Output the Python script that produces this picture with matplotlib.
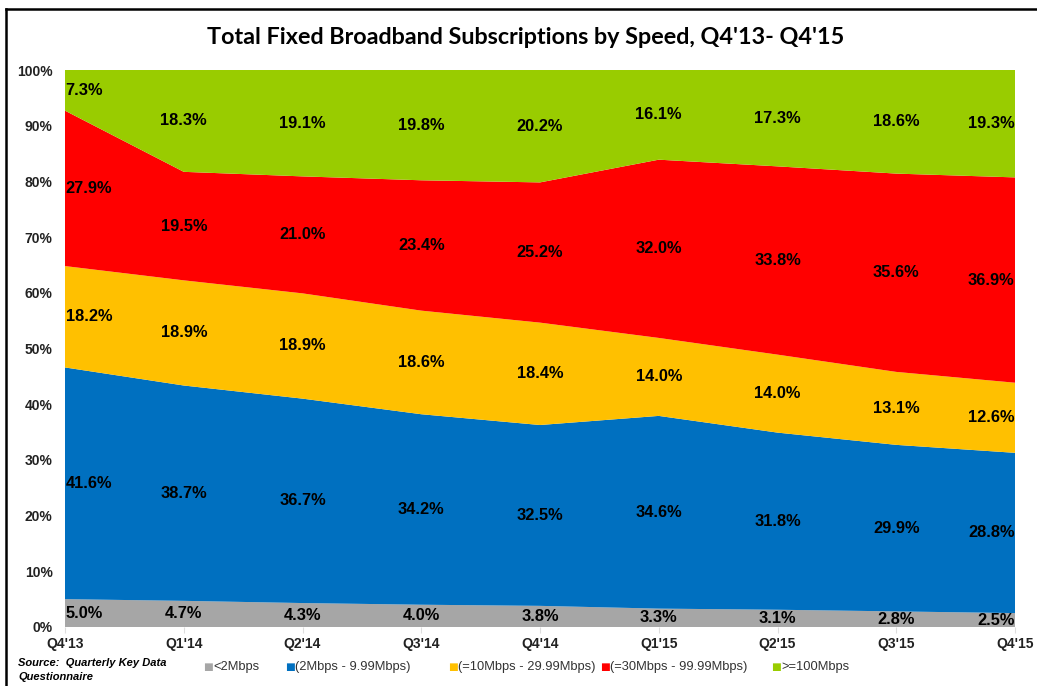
import matplotlib
matplotlib.use("Agg")
import matplotlib.pyplot as plt
import numpy as np
from matplotlib.lines import Line2D

quarters = ["Q4'13", "Q1'14", "Q2'14", "Q3'14", "Q4'14", "Q1'15", "Q2'15", "Q3'15", "Q4'15"]
below_2 = [5.0, 4.7, 4.3, 4.0, 3.8, 3.3, 3.1, 2.8, 2.5]
mbps_2_10 = [41.6, 38.7, 36.7, 34.2, 32.5, 34.6, 31.8, 29.9, 28.8]
mbps_10_30 = [18.2, 18.9, 18.9, 18.6, 18.4, 14.0, 14.0, 13.1, 12.6]
mbps_30_100 = [27.9, 19.5, 21.0, 23.4, 25.2, 32.0, 33.8, 35.6, 36.9]
above_100 = [7.3, 18.3, 19.1, 19.8, 20.2, 16.1, 17.3, 18.6, 19.3]

series = [below_2, mbps_2_10, mbps_10_30, mbps_30_100, above_100]
names = ["<2Mbps", "(2Mbps - 9.99Mbps)", "(=10Mbps - 29.99Mbps)",
         "(=30Mbps - 99.99Mbps)", ">=100Mbps"]
colors = ["#A6A6A6", "#0070C0", "#FFC000", "#FF0000", "#99CC00"]

plt.rcParams['font.family'] = ['Liberation Sans', 'DejaVu Sans']

fig = plt.figure(figsize=(10.37, 6.86), dpi=100)
ax = fig.add_axes([65 / 1037, 1 - 627 / 686, 950 / 1037, 557 / 686])

x = np.arange(len(quarters))
data = np.array(series)
# shares of the total, so the stack ends at 100%
shares = data / data.sum(axis=0) * 100
ax.stackplot(x, shares, colors=colors, linewidth=0)

bottoms = np.vstack([np.zeros(len(x)), np.cumsum(shares, axis=0)[:-1]])
for i in range(len(series)):
    for j in range(len(x)):
        mid = bottoms[i, j] + shares[i, j] / 2
        if j == 0:
            ha, xp = 'left', x[j] + 0.005
        elif j == len(x) - 1:
            ha, xp = 'right', x[j] - 0.003
        else:
            ha, xp = 'center', x[j]
        ax.text(xp, mid, "{:.1f}%".format(series[i][j]), ha=ha, va='center',
                fontsize=11.8, fontweight='bold', color='black')

ax.set_xlim(0, len(x) - 1)
ax.set_ylim(0, 100)
ax.set_yticks(np.arange(0, 101, 10))
ax.set_yticklabels(["{}%".format(v) for v in range(0, 101, 10)],
                   fontsize=10, fontweight='bold', color='#222222')
ax.set_xticks(x)
ax.set_xticklabels(quarters, fontsize=10, fontweight='bold', color='#222222')
ax.tick_params(axis='y', length=0, pad=9)
ax.tick_params(axis='x', length=4, color='#DDDDDD', pad=3)
for s in ax.spines.values():
    s.set_visible(False)

fig.text(526 / 1037, 1 - 38 / 686,
         "Total Fixed Broadband Subscriptions by Speed, Q4'13- Q4'15",
         ha='center', va='center', fontsize=16.85, fontweight='bold',
         family=['Lato', 'DejaVu Sans'])

fig.text(18 / 1037, 1 - 670 / 686, "Source:  Quarterly Key Data\nQuestionnaire",
         ha='left', va='center', fontsize=8, fontweight='bold', style='italic',
         linespacing=1.45)

legend_x = [203, 285, 448, 600, 771]
for lx, name, c in zip(legend_x, names, colors):
    fig.text(lx / 1037, 1 - 667 / 686, "\u25A0", color=c, fontsize=7.5,
             ha='left', va='center', family=['DejaVu Sans'])
    fig.text((lx + 10) / 1037, 1 - 667 / 686, name, color='#333333', fontsize=9.3,
             ha='left', va='center')

# frame around the chart, only top and left edges show
fig.add_artist(Line2D([6 / 1037, 1], [1 - 9 / 686, 1 - 9 / 686],
                      color='black', linewidth=1.8, transform=fig.transFigure))
fig.add_artist(Line2D([6 / 1037, 6 / 1037], [0, 1 - 9 / 686],
                      color='black', linewidth=1.8, transform=fig.transFigure))

fig.savefig("out.png", dpi=100)
